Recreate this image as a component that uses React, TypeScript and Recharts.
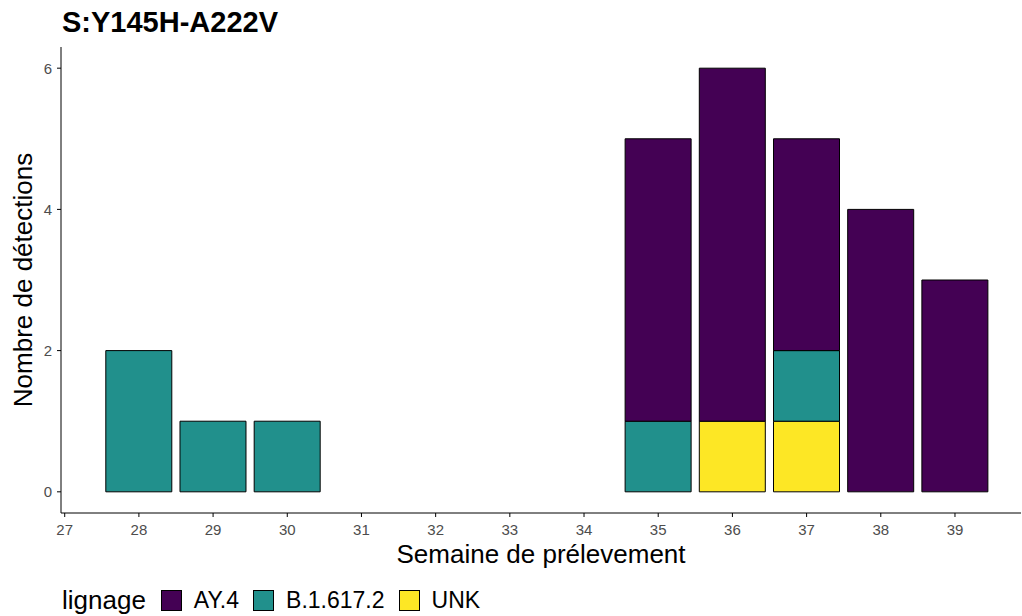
import { BarChart, Bar, XAxis, YAxis } from 'recharts';

const weeks = [28, 29, 30, 35, 36, 37, 38, 39];
const ay4 = [0, 0, 0, 4, 5, 3, 4, 3];
const b16172 = [2, 1, 1, 1, 0, 1, 0, 0];
const unk = [0, 0, 0, 0, 1, 1, 0, 0];

const xTicks = [27, 28, 29, 30, 31, 32, 33, 34, 35, 36, 37, 38, 39];
const yTicks = [0, 2, 4, 6];

const SERIES = [
  { key: 'AY.4', color: '#440154' },
  { key: 'B.1.617.2', color: '#21908C' },
  { key: 'UNK', color: '#FDE725' },
];

const FONT = '"Liberation Sans", Arial, sans-serif';

export default function App() {
  const data = weeks.map((w, i) => ({
    week: w,
    'AY.4': ay4[i],
    'B.1.617.2': b16172[i],
    UNK: unk[i],
  }));

  const tick = { fill: '#4d4d4d', fontSize: 15, fontFamily: FONT };

  return (
    <div style={{ position: 'absolute', left: 0, top: 0, width: 1022, height: 616, background: '#fff', fontFamily: FONT }}>
      <div style={{ position: 'absolute', left: 62, top: 6, fontSize: 29, fontWeight: 'bold', color: '#000', lineHeight: 'normal' }}>
        S:Y145H-A222V
      </div>
      <BarChart width={1022} height={616} data={data} margin={{ top: 47, right: 1, left: 0, bottom: 73 }}>
        <XAxis
          dataKey="week"
          type="number"
          domain={[26.95, 39.89]}
          ticks={xTicks}
          allowDataOverflow
          interval={0}
          height={30}
          tick={tick}
          tickSize={4}
          tickMargin={7}
          stroke="#000"
          label={{ value: 'Semaine de prélevement', position: 'insideBottom', offset: -20, fill: '#000', fontSize: 26, fontFamily: FONT }}
        />
        <YAxis
          type="number"
          domain={[-0.3, 6.3]}
          ticks={yTicks}
          allowDataOverflow
          width={61}
          tick={tick}
          tickSize={4}
          tickMargin={5}
          stroke="#000"
          label={{ value: 'Nombre de détections', angle: -90, position: 'insideLeft', offset: 23, fill: '#000', fontSize: 26, fontFamily: FONT, style: { textAnchor: 'middle' } }}
        />
        <Bar dataKey="UNK" stackId="a" fill="#FDE725" stroke="#000" strokeWidth={1} barSize={66} isAnimationActive={false} />
        <Bar dataKey="B.1.617.2" stackId="a" fill="#21908C" stroke="#000" strokeWidth={1} barSize={66} isAnimationActive={false} />
        <Bar dataKey="AY.4" stackId="a" fill="#440154" stroke="#000" strokeWidth={1} barSize={66} isAnimationActive={false} />
      </BarChart>
      <div style={{ position: 'absolute', left: 62, top: 585, display: 'flex', alignItems: 'center', fontSize: 26, color: '#000', lineHeight: 'normal' }}>
        <span style={{ marginRight: 15 }}>lignage</span>
        {SERIES.map(s => (
          <span key={s.key} style={{ display: 'flex', alignItems: 'center', marginRight: 14, fontSize: 23 }}>
            <span style={{ display: 'inline-block', width: 19, height: 19, background: s.color, border: '1px solid #000', marginRight: 12 }} />
            <span>{s.key}</span>
          </span>
        ))}
      </div>
    </div>
  );
}
